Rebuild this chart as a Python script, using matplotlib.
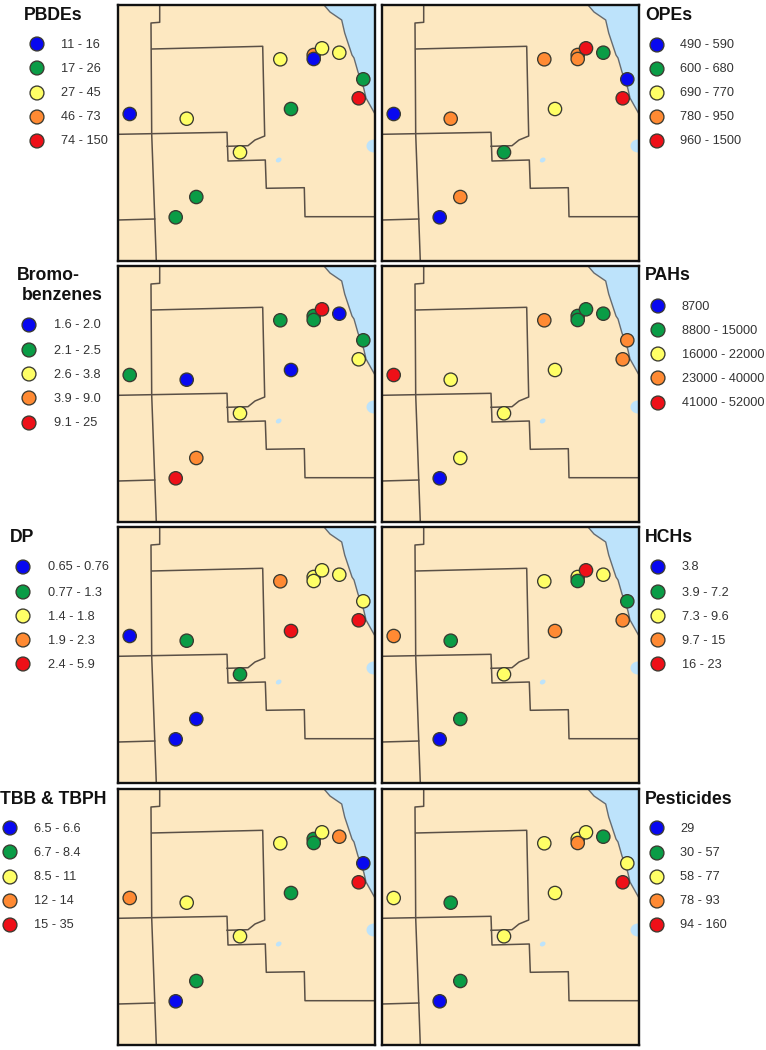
#!/usr/bin/env python
# small multiples of the sampling sites, one map per compound class

import matplotlib
matplotlib.use("Agg")
import matplotlib.pyplot as plt
from matplotlib.patches import Polygon, Ellipse

plt.rcParams['font.family'] = ['Liberation Sans', 'DejaVu Sans']

W, H = 766, 1050

# colours of the five classes, low to high
class_colors = ['#0808f0', '#0a9c46', '#ffff66', '#ff8a33', '#ee1018']
land = '#fde8c1'
lake = '#bde3fb'
border = '#5a5046'

# site positions on the map (map units, y down)
site_x = [11.7, 68.7, 122, 173, 78.3, 57.7, 162.3, 195.7, 195.7, 204, 221.3, 245.3, 240.7]
site_y = [109, 113.7, 147.3, 104, 192, 212.3, 54.3, 50, 54, 43.3, 47.7, 74.3, 93.3]

# class of each site, same order as site_x
pbdes = [0, 2, 2, 1, 1, 1, 2, 3, 0, 2, 2, 1, 4]
opes = [0, 3, 1, 2, 3, 0, 3, 3, 3, 4, 1, 0, 4]
bromo = [1, 0, 2, 0, 3, 4, 1, 1, 1, 4, 0, 1, 2]
pahs = [4, 2, 2, 2, 2, 0, 3, 1, 1, 1, 1, 3, 3]
dp = [0, 1, 1, 4, 0, 0, 3, 2, 2, 2, 2, 2, 4]
hchs = [3, 1, 2, 3, 1, 0, 2, 2, 1, 4, 2, 1, 3]
tbb = [3, 2, 2, 1, 1, 0, 2, 1, 1, 2, 3, 0, 4]
pest = [2, 1, 2, 2, 1, 0, 2, 2, 3, 2, 1, 2, 4]

# legend labels
pbdes_lab = ['11 - 16', '17 - 26', '27 - 45', '46 - 73', '74 - 150']
opes_lab = ['490 - 590', '600 - 680', '690 - 770', '780 - 950', '960 - 1500']
bromo_lab = ['1.6 - 2.0', '2.1 - 2.5', '2.6 - 3.8', '3.9 - 9.0', '9.1 - 25']
pahs_lab = ['8700', '8800 - 15000', '16000 - 22000', '23000 - 40000', '41000 - 52000']
dp_lab = ['0.65 - 0.76', '0.77 - 1.3', '1.4 - 1.8', '1.9 - 2.3', '2.4 - 5.9']
hchs_lab = ['3.8', '3.9 - 7.2', '7.3 - 9.6', '9.7 - 15', '16 - 23']
tbb_lab = ['6.5 - 6.6', '6.7 - 8.4', '8.5 - 11', '12 - 14', '15 - 35']
pest_lab = ['29', '30 - 57', '58 - 77', '78 - 93', '94 - 160']

# county lines
county_lines = [
    [(41.7, 0), (41.7, 17.3), (33, 18), (33.7, 129), (38.3, 256)],
    [(0, 215), (36.7, 214)],
    [(33.7, 44), (144.7, 41.3), (146.7, 131), (137, 135), (130, 140.7), (109, 141.3)],
    [(0, 129.3), (109, 127.3), (110, 156), (147.3, 155), (148.3, 183.3),
     (186.3, 182.7), (187, 211.7), (257, 211.7)],
]
shore = [(206, 0), (212, 7), (223.7, 15), (226.7, 28), (234, 50), (236, 53), (240, 67),
         (245.7, 83), (248, 93), (257, 109)]

# panels: title lines, class list, labels, left/top of map, marker x, text x, marker ys
panels = [
    ([('PBDEs', 24, 15)], pbdes, pbdes_lab, 118, 5, 37, 61, [44, 68, 93, 117, 141]),
    ([('OPEs', 645, 15)], opes, opes_lab, 382, 5, 657, 680, [45, 69, 93, 117, 141]),
    ([('Bromo-', 17, 276), ('benzenes', 22, 296)], bromo, bromo_lab, 118, 266, 29, 54,
     [325, 350, 374, 398, 423]),
    ([('PAHs', 645, 276)], pahs, pahs_lab, 382, 266, 658, 682, [306, 330, 354, 378, 403]),
    ([('DP', 10, 538)], dp, dp_lab, 118, 527, 23, 48, [567, 592, 616, 640, 664]),
    ([('HCHs', 645, 538)], hchs, hchs_lab, 382, 527, 658, 682, [567, 592, 616, 640, 664]),
    ([('TBB & TBPH', 0, 799)], tbb, tbb_lab, 118, 789, 10, 34, [828, 852, 877, 901, 925]),
    ([('Pesticides', 645, 800)], pest, pest_lab, 382, 789, 657, 680, [828, 853, 877, 901, 925]),
]

fig = plt.figure(figsize=(W / 100, H / 100), dpi=100)

# overlay in pixels for the legends
over = fig.add_axes([0, 0, 1, 1])
over.set_xlim(0, W)
over.set_ylim(H, 0)
over.axis('off')

for titles, classes, labels, left, top, mx, lx, ys in panels:
    ax = fig.add_axes([left / W, 1 - (top + 256) / H, 257 / W, 256 / H])
    ax.set_facecolor(land)
    ax.set_xlim(0, 257)
    ax.set_ylim(256, 0)
    ax.set_xticks([])
    ax.set_yticks([])
    for s in ax.spines.values():
        s.set_linewidth(1.7)
        s.set_color('#111111')

    ax.add_patch(Polygon(shore + [(257, 0)], closed=True, fc=lake, ec='none'))
    ax.plot(*zip(*shore), color='#666b70', lw=1.0)
    ax.add_patch(Ellipse((256, 141), 15, 13, fc=lake, ec='none'))
    ax.add_patch(Ellipse((160.7, 155), 6, 4.5, angle=-30, fc=lake, ec='none'))
    for line in county_lines:
        ax.plot(*zip(*line), color=border, lw=1.1)

    ax.scatter(site_x, site_y, c=[class_colors[c] for c in classes], s=92,
               edgecolors='#3a3a30', linewidths=0.95, zorder=5, clip_on=False)

    for text, tx, ty in titles:
        over.text(tx, ty, text, fontsize=12.7, fontweight='bold', color='#111111',
                  ha='left', va='center')
    over.scatter([mx] * 5, ys, c=class_colors, s=100, edgecolors='#3a3a30', linewidths=0.95)
    for y, lab in zip(ys, labels):
        over.text(lx, y + 0.5, lab, fontsize=9.2, color='#333333', ha='left', va='center')

fig.savefig('out.png', dpi=100)
